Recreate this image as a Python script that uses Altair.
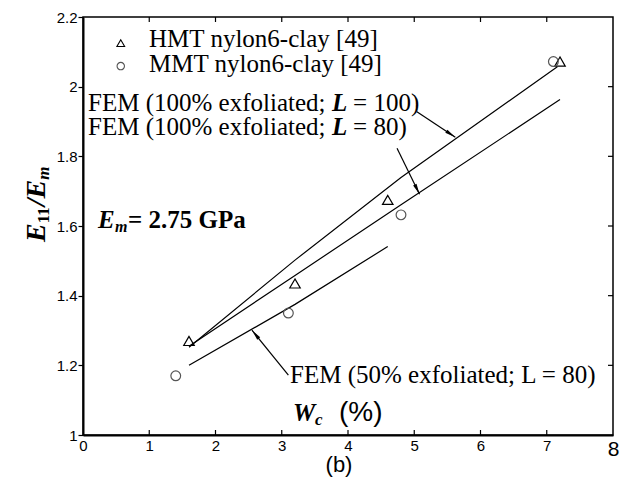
import math
import altair as alt
import pandas as pd

# ---------------- data ----------------
hmt_wc = [1.6, 3.2, 4.6, 7.2]
hmt_ratio = [1.27, 1.435, 1.675, 2.072]
mmt_wc = [1.4, 3.1, 4.8, 7.1]
mmt_ratio = [1.17, 1.35, 1.632, 2.072]

fem100_wc = [1.6, 3.2, 4.8, 7.16]
fem100_ratio = [1.252, 1.502, 1.739, 2.057]
fem80_wc = [1.6, 3.2, 4.8, 7.2]
fem80_ratio = [1.255, 1.458, 1.661, 1.963]
fem50_wc = [1.6, 3.2, 4.6]
fem50_ratio = [1.2, 1.375, 1.541]

x_ticks = [0, 1, 2, 3, 4, 5, 6, 7, 8]
y_ticks = [1.0, 1.2, 1.4, 1.6, 1.8, 2.0, 2.2]
inner_x_ticks = [1, 2, 3, 4, 5, 6, 7]
inner_y_ticks = [1.2, 1.4, 1.6, 1.8, 2.0]

arrow_start_wc = [5.04, 4.74, 3.10]
arrow_start_ratio = [1.928, 1.823, 1.172]
arrow_tip_wc = [5.62, 5.08, 2.55]
arrow_tip_ratio = [1.855, 1.691, 1.301]

legend_labels = ["HMT nylon6-clay [49]", "MMT nylon6-clay [49]"]
legend_sym_wc = [0.57, 0.57]
legend_sym_ratio = [2.125, 2.059]
legend_text_wc = [0.997, 0.997]
legend_text_ratio = [2.114, 2.043]

fem_label_wc = [0.076, 0.076]
fem_label_ratio = [1.931, 1.861]
fem_label_end = ["= 100)", "= 80)"]

fem50_label = "FEM (50% exfoliated; L = 80)"
fem50_label_wc = 3.125
fem50_label_ratio = 1.149

em_label_wc = 0.227
em_label_ratio = 1.594

# ---------------- layout ----------------
W, H = 530, 418
SERIF = "Liberation Serif"
SANS = "Liberation Sans"
FS = 25

xs = alt.Scale(domain=[0, 8], nice=False, zero=False)
ys = alt.Scale(domain=[1.0, 2.2], nice=False, zero=False)

xaxis = alt.Axis(
    values=x_ticks, title=None, ticks=False, grid=False,
    domainColor="black", domainWidth=2,
    labelFont=SANS, labelColor="black", labelPadding=3,
    labelFontSize={"condition": {"test": "datum.value == 8", "value": 21}, "value": 15},
    labelFlush=False, labelOverlap=False,
)
yaxis = alt.Axis(
    values=y_ticks, title=None, grid=False, format="~g",
    tickSize=5, tickColor="black", tickWidth=1.2,
    domainColor="black", domainWidth=2,
    labelFont=SANS, labelColor="black", labelFontSize=15, labelPadding=1,
    labelOverlap=False,
)


def X(f):
    return alt.X(f, type="quantitative", scale=xs, axis=xaxis)


def Y(f):
    return alt.Y(f, type="quantitative", scale=ys, axis=yaxis)


# ---------------- tables ----------------
lines_df = pd.concat([
    pd.DataFrame({"wc": fem100_wc, "r": fem100_ratio, "s": "L100"}),
    pd.DataFrame({"wc": fem80_wc, "r": fem80_ratio, "s": "L80"}),
    pd.DataFrame({"wc": fem50_wc, "r": fem50_ratio, "s": "P50"}),
], ignore_index=True)

hmt_df = pd.DataFrame({"wc": hmt_wc, "r": hmt_ratio})
mmt_df = pd.DataFrame({"wc": mmt_wc, "r": mmt_ratio})

sx = W / 8.0
sy = H / 1.2
angles = []
for a, b, c, d in zip(arrow_start_wc, arrow_start_ratio, arrow_tip_wc, arrow_tip_ratio):
    dxp = (c - a) * sx
    dyp = -(d - b) * sy
    angles.append((math.degrees(math.atan2(dxp, -dyp)) + 360) % 360)
arrows_df = pd.DataFrame({
    "x1": arrow_start_wc, "y1": arrow_start_ratio,
    "x2": arrow_tip_wc, "y2": arrow_tip_ratio, "angle": angles,
})

leg_df = pd.DataFrame({
    "label": legend_labels, "sx": legend_sym_wc, "sy": legend_sym_ratio,
    "tx": legend_text_wc, "ty": legend_text_ratio,
})
fem_df = pd.DataFrame({"x": fem_label_wc, "y": fem_label_ratio, "end": fem_label_end})
one = pd.DataFrame({"k": [0]})

# ---------------- layers ----------------
lines = alt.Chart(lines_df).mark_line(color="black", strokeWidth=1.2).encode(
    x=X("wc"), y=Y("r"), detail="s:N"
)
hmt = alt.Chart(hmt_df).mark_point(
    shape="triangle-up", filled=False, color="black", strokeWidth=1.2, size=110, opacity=1
).encode(x=X("wc"), y=Y("r"))
mmt = alt.Chart(mmt_df).mark_point(
    shape="circle", filled=False, color="#555555", strokeWidth=1.2, size=95, opacity=1
).encode(x=X("wc"), y=Y("r"))

arrow_lines = alt.Chart(arrows_df).mark_rule(color="black", strokeWidth=1.2).encode(
    x=X("x1"), y=Y("y1"), x2=alt.X2("x2"), y2=alt.Y2("y2")
)
arrow_heads = alt.Chart(arrows_df).mark_point(
    shape="M0,0L0.3,1.7L-0.3,1.7Z", filled=True, color="black", size=160, opacity=1
).encode(x=X("x2"), y=Y("y2"), angle=alt.Angle("angle:Q", scale=None))

leg_tri = alt.Chart(leg_df.iloc[[0]]).mark_point(
    shape="triangle-up", filled=False, color="black", strokeWidth=1.1, size=60, opacity=1
).encode(x=X("sx"), y=Y("sy"))
leg_circ = alt.Chart(leg_df.iloc[[1]]).mark_point(
    shape="circle", filled=False, color="#555555", strokeWidth=1.1, size=55, opacity=1
).encode(x=X("sx"), y=Y("sy"))
leg_text = alt.Chart(leg_df).mark_text(
    font=SERIF, fontSize=FS, align="left", baseline="alphabetic", color="black"
).encode(x=X("tx"), y=Y("ty"), text="label:N")

fem_a = alt.Chart(fem_df).mark_text(
    font=SERIF, fontSize=FS, align="left", baseline="alphabetic", color="black"
).encode(x=X("x"), y=Y("y"), text=alt.value("FEM (100% exfoliated;"))
fem_b = alt.Chart(fem_df).mark_text(
    font=SERIF, fontSize=FS, fontWeight="bold", fontStyle="italic",
    align="left", baseline="alphabetic", color="black", dx=244
).encode(x=X("x"), y=Y("y"), text=alt.value("L"))
fem_c = alt.Chart(fem_df).mark_text(
    font=SERIF, fontSize=FS, align="left", baseline="alphabetic", color="black", dx=265
).encode(x=X("x"), y=Y("y"), text="end:N")

fem50 = alt.Chart(pd.DataFrame({"x": [fem50_label_wc], "y": [fem50_label_ratio], "t": [fem50_label]})).mark_text(
    font=SERIF, fontSize=FS, align="left", baseline="alphabetic", color="black"
).encode(x=X("x"), y=Y("y"), text="t:N")

em_df = pd.DataFrame({"x": [em_label_wc], "y": [em_label_ratio]})
em_a = alt.Chart(em_df).mark_text(
    font=SERIF, fontSize=FS, fontWeight="bold", fontStyle="italic",
    align="left", baseline="alphabetic", color="black"
).encode(x=X("x"), y=Y("y"), text=alt.value("E"))
em_b = alt.Chart(em_df).mark_text(
    font=SERIF, fontSize=16, fontWeight="bold", fontStyle="italic",
    align="left", baseline="alphabetic", color="black", dx=17, dy=4
).encode(x=X("x"), y=Y("y"), text=alt.value("m"))
em_c = alt.Chart(em_df).mark_text(
    font=SERIF, fontSize=FS, fontWeight="bold",
    align="left", baseline="alphabetic", color="black", dx=30
).encode(x=X("x"), y=Y("y"), text=alt.value("= 2.75 GPa"))

# inward ticks on bottom, top, right
tick_x_df = pd.DataFrame({"t": inner_x_ticks})
tick_y_df = pd.DataFrame({"t": inner_y_ticks})
bot_ticks = alt.Chart(tick_x_df).mark_rule(color="black", strokeWidth=1.2).encode(
    x=X("t"), y=alt.value(H), y2=alt.value(H - 5)
)
top_ticks = alt.Chart(tick_x_df).mark_rule(color="black", strokeWidth=1.2).encode(
    x=X("t"), y=alt.value(0), y2=alt.value(5)
)
right_ticks = alt.Chart(tick_y_df).mark_rule(color="black", strokeWidth=1.2).encode(
    y=Y("t"), x=alt.value(W), x2=alt.value(W - 5)
)


# axis titles drawn as text pieces
def txt(t, x, y, size, font=SERIF, weight="normal", style="normal", angle=0, align="left"):
    kw = dict(font=font, fontSize=size, fontWeight=weight, fontStyle=style,
              align=align, baseline="alphabetic", color="black")
    if angle:
        kw["angle"] = angle
    return alt.Chart(one).mark_text(**kw).encode(
        x=alt.value(x), y=alt.value(y), text=alt.value(t)
    )


ytitle = (
    txt("E", -38, 225, 28, weight="bold", style="italic", angle=270)
    + txt("11", -34, 206.3, 17, weight="bold", angle=270)
    + txt("/E", -38, 189.3, 28, weight="bold", style="italic", angle=270)
    + txt("m", -34, 162.8, 17, weight="bold", style="italic", angle=270)
)
xtitle = (
    txt("W", 210, 404, 25, weight="bold", style="italic")
    + txt("c", 232, 408, 17, weight="bold", style="italic")
    + txt("(%)", 256, 404, 28, font=SANS)
)
sub_b = txt("(b)", 256, 455, 22, font=SANS, align="center")

chart = alt.layer(
    lines, arrow_lines, arrow_heads, hmt, mmt,
    leg_tri, leg_circ, leg_text,
    fem_a, fem_b, fem_c, fem50, em_a, em_b, em_c,
    bot_ticks, top_ticks, right_ticks,
    ytitle, xtitle, sub_b,
).properties(
    width=W, height=H,
    autosize=alt.AutoSizeParams(type="none"),
    padding={"left": 83, "top": 17, "right": 8, "bottom": 49},
    background="white",
).configure_view(stroke="black", strokeWidth=1.5)

chart.save("out.html", embed_options={"renderer": "svg", "actions": False})
